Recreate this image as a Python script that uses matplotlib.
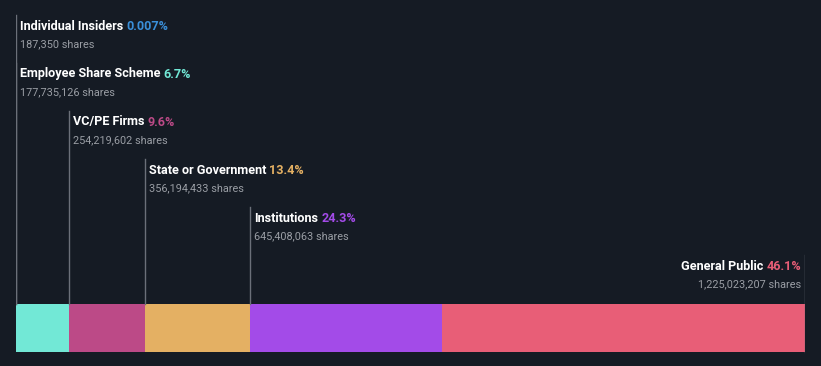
import matplotlib.pyplot as plt
import matplotlib.transforms as mtransforms

# ownership breakdown
names = ['Individual Insiders', 'Employee Share Scheme', 'VC/PE Firms',
         'State or Government', 'Institutions', 'General Public']
pcts = [0.007, 6.7, 9.6, 13.4, 24.3, 46.1]
pct_labels = ['0.007%', '6.7%', '9.6%', '13.4%', '24.3%', '46.1%']
shares = ['187,350', '177,735,126', '254,219,602', '356,194,433',
          '645,408,063', '1,225,023,207']
colors = ['#3a8fd9', '#72e8d6', '#bc4a87', '#e4b063', '#a34be8', '#e85e77']

bg = '#151b24'
plt.rcParams['font.family'] = ['Roboto', 'DejaVu Sans']

fig = plt.figure(figsize=(8.21, 3.66), dpi=100, facecolor=bg)
W, H = 821, 366
ax = fig.add_axes([16 / W, 0, 789 / W, 1])
ax.set_facecolor(bg)
ax.set_xlim(0, sum(pcts))
ax.set_ylim(H, 0)  # y in pixels from the top
ax.axis('off')

# the stacked bar
lefts = []
cum = 0
for p, c in zip(pcts, colors):
    ax.barh(328, p, left=cum, height=48, color=c, edgecolor='none')
    lefts.append(cum)
    cum += p

line_col = '#6b7079'
fs = 9.1
for i, (n, pl, sh, c, left) in enumerate(zip(names, pct_labels, shares, colors, lefts)):
    y_name = 26 + 48 * i
    y_sh = y_name + 18
    last = i == len(names) - 1
    if last:
        x = sum(pcts)
        dx, ha = -4, 'right'
        ax.plot([x, x], [y_name - 11, 352], color=line_col, lw=1)
    else:
        x = left
        dx, ha = 4, 'left'
        ax.plot([x, x], [y_name - 11, 304], color=line_col, lw=1)
    tr = ax.transData + mtransforms.ScaledTranslation(dx / 100, 0, fig.dpi_scale_trans)
    if last:
        t = ax.text(x, y_name, pl, color=c, fontsize=fs, fontweight='bold',
                    ha='right', va='center', transform=tr)
        fig.canvas.draw()
        bb = t.get_window_extent()
        tr2 = ax.transData + mtransforms.ScaledTranslation((dx - bb.width - 3) / 100, 0, fig.dpi_scale_trans)
        ax.text(x, y_name, n, color='white', fontsize=fs, fontweight='bold',
                ha='right', va='center', transform=tr2)
    else:
        t = ax.text(x, y_name, n, color='white', fontsize=fs, fontweight='bold',
                    ha='left', va='center', transform=tr)
        fig.canvas.draw()
        bb = t.get_window_extent()
        tr2 = ax.transData + mtransforms.ScaledTranslation((dx + bb.width + 3) / 100, 0, fig.dpi_scale_trans)
        ax.text(x, y_name, pl, color=c, fontsize=fs, fontweight='bold',
                ha='left', va='center', transform=tr2)
    ax.text(x, y_sh, sh + ' shares', color='#9a9ea5', fontsize=7.8,
            ha=ha, va='center', transform=tr)

fig.savefig('out.png', dpi=100, facecolor=bg)
